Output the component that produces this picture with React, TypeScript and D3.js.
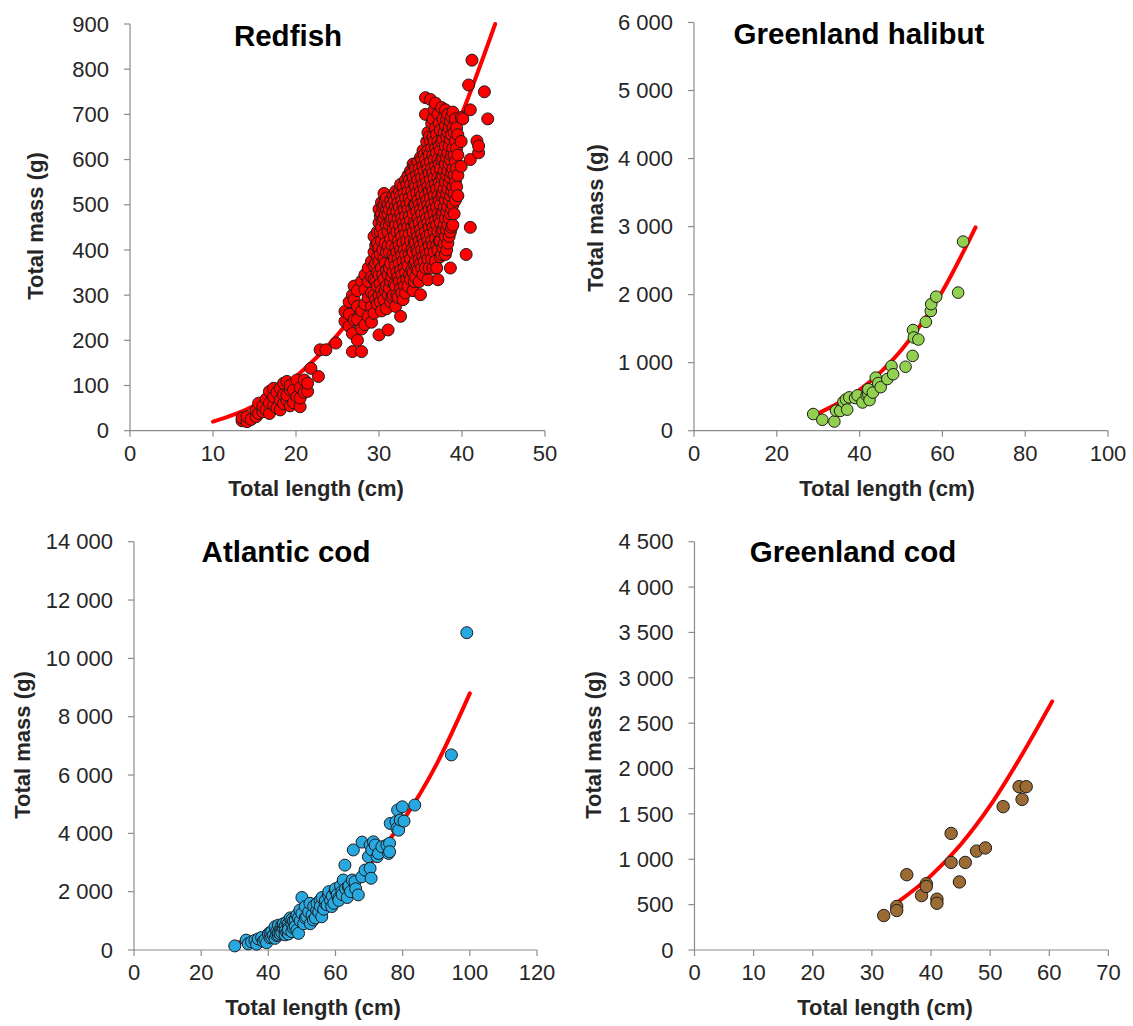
import React, { useEffect } from "react";
import * as d3 from "d3";

// Redfish: each row is [total length (cm), total mass (g) of each fish measured at that length...]
const redfishRows: number[][] = [
  [13.5, 22, 28],
  [14.1, 20, 31],
  [14.6, 25],
  [15.2, 31, 45],
  [15.5, 38, 61],
  [16.0, 42, 55],
  [16.4, 46, 70],
  [16.8, 38, 61, 87],
  [17.3, 57, 75, 94],
  [17.7, 50, 85],
  [18.1, 46, 68, 94],
  [18.5, 60, 80, 105],
  [18.9, 68, 79, 109],
  [19.3, 55, 90, 100],
  [19.7, 62, 90],
  [20.1, 75, 112],
  [20.5, 53, 72, 95],
  [21.0, 85, 112],
  [21.4, 87, 105],
  [21.8, 138],
  [22.7, 120],
  [22.9, 179],
  [23.6, 179],
  [24.8, 194],
  [25.9, 242, 264],
  [26.4, 231, 258, 285],
  [26.8, 175, 215, 300],
  [27.0, 245, 290, 320],
  [27.4, 200, 246, 275, 310],
  [27.9, 175, 225, 265, 331],
  [28.3, 235, 280, 312, 345],
  [28.7, 253, 295, 330, 360],
  [29.1, 240, 275, 305, 340, 375],
  [29.4, 260, 300, 335, 365, 395, 430],
  [29.6, 290, 330, 370, 410],
  [29.8, 280, 320, 350, 385, 415, 440],
  [30.0, 212, 300, 345, 375, 405, 460, 490],
  [30.15, 285, 325, 390, 440, 475],
  [30.3, 265, 310, 360, 420, 450, 480, 505],
  [30.45, 300, 345, 400, 465, 495],
  [30.6, 290, 335, 380, 435, 470, 500, 525],
  [30.75, 310, 370, 415, 480, 510],
  [30.9, 270, 320, 355, 395, 455, 490, 515],
  [31.1, 223, 300, 345, 410, 440, 480, 500],
  [31.25, 315, 360, 395, 455, 490],
  [31.4, 285, 330, 370, 425, 465, 510],
  [31.55, 295, 340, 410, 470, 500],
  [31.7, 300, 350, 390, 445, 485, 520],
  [31.85, 325, 380, 430, 470, 510],
  [32.0, 275, 320, 365, 405, 455, 495, 530],
  [32.15, 300, 350, 395, 440, 485, 520],
  [32.3, 295, 340, 380, 420, 470, 505],
  [32.45, 330, 370, 410, 455, 495, 530],
  [32.6, 253, 315, 355, 400, 440, 480, 520, 545],
  [32.75, 305, 345, 390, 430, 470, 510],
  [32.9, 290, 330, 375, 415, 460, 500, 540],
  [33.05, 320, 360, 400, 450, 490, 525],
  [33.2, 305, 350, 390, 435, 475, 515, 555],
  [33.35, 335, 375, 420, 460, 500, 545],
  [33.5, 320, 365, 405, 450, 490, 530, 565],
  [33.65, 345, 390, 435, 475, 515, 555],
  [33.8, 335, 380, 420, 465, 505, 545, 575],
  [33.95, 355, 400, 450, 490, 530, 570],
  [34.1, 310, 350, 395, 440, 480, 520, 560, 590],
  [34.25, 330, 370, 420, 460, 500, 545, 585],
  [34.4, 340, 375, 415, 455, 500, 540, 580],
  [34.55, 360, 400, 440, 485, 525, 565],
  [34.7, 355, 395, 430, 470, 510, 555, 595],
  [34.85, 330, 380, 420, 460, 500, 540, 580],
  [35.0, 301, 370, 410, 445, 490, 530, 570, 605],
  [35.15, 360, 400, 435, 480, 520, 560, 600],
  [35.3, 345, 385, 425, 465, 505, 545, 585, 620],
  [35.45, 375, 415, 455, 495, 535, 575, 610],
  [35.6, 360, 400, 440, 480, 520, 560, 600, 700, 737],
  [35.75, 390, 430, 470, 510, 550, 590, 640],
  [35.9, 334, 380, 420, 460, 500, 540, 580, 620, 660],
  [36.05, 360, 410, 450, 490, 530, 570, 610, 650],
  [36.2, 395, 435, 475, 515, 555, 595, 640, 733],
  [36.35, 380, 420, 460, 500, 540, 580, 625, 680],
  [36.5, 360, 410, 450, 490, 530, 570, 610, 650, 690],
  [36.65, 395, 440, 480, 520, 560, 600, 640, 710],
  [36.8, 375, 425, 465, 505, 545, 585, 625, 670, 725],
  [36.95, 360, 410, 455, 495, 535, 575, 615, 655],
  [37.1, 334, 400, 440, 480, 520, 560, 600, 640, 700],
  [37.25, 420, 470, 510, 550, 590, 630, 680],
  [37.4, 385, 420, 460, 500, 540, 580, 620, 665],
  [37.55, 390, 440, 480, 520, 560, 600, 640, 715],
  [37.7, 405, 445, 485, 525, 565, 605, 645, 690],
  [37.85, 415, 455, 495, 535, 575, 615, 660],
  [38.0, 390, 430, 470, 510, 550, 590, 630, 675, 710],
  [38.15, 400, 445, 485, 525, 565, 605, 650, 690],
  [38.3, 415, 455, 495, 535, 575, 615, 660, 700],
  [38.45, 430, 470, 510, 550, 590, 630, 670],
  [38.6, 360, 440, 480, 520, 560, 600, 645, 685],
  [38.75, 450, 490, 530, 570, 610, 655, 695],
  [38.9, 455, 500, 540, 580, 625, 670, 705],
  [39.05, 480, 525, 565, 610, 660],
  [39.2, 510, 550, 595, 640, 690],
  [39.35, 540, 580, 625, 670],
  [39.5, 520, 565, 610, 655],
  [39.9, 585, 640, 693],
  [40.1, 690],
  [40.5, 390],
  [40.8, 765],
  [41.0, 450, 600, 710],
  [41.2, 820],
  [41.8, 641],
  [42.0, 615, 630],
  [42.7, 750],
  [43.1, 690],
];

// [total length (cm), total mass (g)]
const halibutPoints: [number, number][] = [
  [28.8, 245], [31, 160], [33.9, 135], [34.3, 295], [35.3, 290], [36.1, 425],
  [36.7, 460], [37, 310], [37.5, 490], [38.9, 480], [39.5, 520], [40.7, 415],
  [41.7, 520], [42.1, 540], [42.1, 610], [42.4, 450], [43.2, 560], [43.9, 780],
  [44.5, 700], [45.1, 640], [46.7, 760], [47.7, 950], [48.1, 830], [51.1, 940],
  [52.8, 1100], [52.9, 1480], [53.1, 1370], [54.2, 1340], [56, 1600], [57.2, 1760],
  [57.3, 1860], [58.5, 1970], [63.8, 2030], [65, 2780],
];

const atlanticCodPoints: [number, number][] = [
  [30, 140], [33.4, 340], [34, 210], [35, 280], [36, 330], [36.5, 200], [37, 380],
  [38, 430], [38.5, 300], [39, 350], [39.5, 250], [40, 550], [40.5, 420], [40.5, 600],
  [41, 630], [41, 450], [41.5, 500], [42, 800], [42, 400], [42.5, 650], [42.5, 500],
  [43, 510], [43, 600], [43, 850], [43.5, 700], [43.5, 560], [44, 850], [44, 700],
  [44, 600], [44.5, 740], [44.5, 900], [45, 820], [45, 650], [45, 520], [45.5, 600],
  [45.5, 960], [46, 910], [46, 760], [46, 550], [46, 700], [46.5, 1100], [47, 630],
  [47, 900], [47, 1050], [47.5, 1000], [47.5, 750], [48, 1030], [48, 800], [48.5, 1200],
  [48.5, 680], [49, 570], [49, 1100], [49.4, 1370], [49.5, 1000], [50, 1800], [50, 1250],
  [50.5, 900], [51, 1490], [51, 1100], [51.4, 1140], [52, 1300], [52.4, 1600], [52.5, 900],
  [53, 1200], [53.4, 1030], [53.5, 1500], [54, 1100], [54.4, 1370], [54.5, 1600], [55, 1300],
  [55.4, 1710], [55.5, 1500], [55.9, 1140], [56, 1800], [56.5, 1400], [56.9, 1600], [57, 1700],
  [57.5, 1550], [57.9, 1890], [58, 2000], [58.5, 1700], [58.9, 1490], [59, 1850], [59.5, 1600],
  [59.9, 2060], [60, 2100], [60.5, 1900], [60.9, 1770], [61, 1700], [61.5, 2200], [61.9, 2000],
  [62, 1900], [62.3, 2400], [62.8, 2910], [63, 2100], [63.5, 1800], [63.8, 2170], [64, 2200],
  [64.5, 2000], [65, 2400], [65.3, 3430], [65.8, 2340], [66, 2100], [66.8, 1890], [67.8, 2510],
  [67.9, 3700], [68.8, 2740], [69.8, 3200], [70.3, 3600], [70.3, 2800], [70.6, 2460], [70.8, 3430],
  [71.3, 3710], [71.8, 3600], [72.4, 3200], [72.8, 3310], [73.8, 3540], [75.3, 3600], [75.8, 3310],
  [76.1, 3660], [76.1, 3370], [76.3, 4340], [78, 4400], [78.3, 4170], [78.5, 4800], [78.8, 4110],
  [79.3, 4460], [79.9, 4910], [80.4, 4420], [83.6, 4970], [94.5, 6690], [99.1, 10880],
];

const greenlandCodPoints: [number, number][] = [
  [32, 380], [34.2, 480], [34.2, 435], [35.9, 830], [38.4, 600], [39.2, 730], [39.2, 700],
  [41, 560], [41, 515], [43.4, 1285], [43.4, 965], [44.8, 750], [45.8, 965], [47.7, 1090],
  [49.2, 1125], [52.2, 1580], [54.9, 1800], [55.4, 1660], [56.1, 1800],
];

// Length–mass fit curves, sampled along each fitted line
const redfishFit: [number, number][] = [
  [10, 20], [15, 56], [20, 120], [25, 212], [30, 338], [35, 502], [40, 702], [44, 900],
];
const halibutFit: [number, number][] = [
  [30.5, 270], [40, 600], [50, 1180], [60, 2050], [68, 2990],
];
const atlanticCodFit: [number, number][] = [
  [30, 230], [40, 530], [50, 1040], [60, 1820], [70, 2920], [80, 4420], [90, 6350], [100, 8800],
];
const greenlandCodFit: [number, number][] = [
  [34.2, 520], [40, 820], [45, 1160], [50, 1590], [55, 2110], [60.5, 2740],
];

const redfishLengthTicks = [0, 10, 20, 30, 40, 50];
const redfishMassTicks = [0, 100, 200, 300, 400, 500, 600, 700, 800, 900];
const halibutLengthTicks = [0, 20, 40, 60, 80, 100];
const halibutMassTicks = [0, 1000, 2000, 3000, 4000, 5000, 6000];
const atlanticCodLengthTicks = [0, 20, 40, 60, 80, 100, 120];
const atlanticCodMassTicks = [0, 2000, 4000, 6000, 8000, 10000, 12000, 14000];
const greenlandCodLengthTicks = [0, 10, 20, 30, 40, 50, 60, 70];
const greenlandCodMassTicks = [0, 500, 1000, 1500, 2000, 2500, 3000, 3500, 4000, 4500];

const speciesNames = ["Redfish", "Greenland halibut", "Atlantic cod", "Greenland cod"];
const xAxisTitle = "Total length (cm)";
const yAxisTitle = "Total mass (g)";

const redfishPoints: [number, number][] = redfishRows.flatMap(([len, ...masses]) =>
  masses.map((m) => [len, m] as [number, number])
);

const massFormat = d3
  .formatLocale({ decimal: ".", thousands: " ", grouping: [3], currency: ["", ""] })
  .format(",d");

type PanelSpec = {
  title: string;
  points: [number, number][];
  fit: [number, number][];
  xTicks: number[];
  yTicks: number[];
  fill: string;
  r: number;
  left: number;
  right: number;
  top: number;
  bottom: number;
  titleX: number;
  titleY: number;
  xTitleX: number;
  yTitleX: number;
  yTitleY: number;
};

const panels: PanelSpec[] = [
  {
    title: speciesNames[0], points: redfishPoints, fit: redfishFit,
    xTicks: redfishLengthTicks, yTicks: redfishMassTicks, fill: "#ff0000", r: 6,
    left: 130, right: 545, top: 24, bottom: 430.7,
    titleX: 288, titleY: 46, xTitleX: 316, yTitleX: 43, yTitleY: 226,
  },
  {
    title: speciesNames[1], points: halibutPoints, fit: halibutFit,
    xTicks: halibutLengthTicks, yTicks: halibutMassTicks, fill: "#92d050", r: 5.8,
    left: 694, right: 1108, top: 22.5, bottom: 430.7,
    titleX: 859, titleY: 44, xTitleX: 887, yTitleX: 603, yTitleY: 218,
  },
  {
    title: speciesNames[2], points: atlanticCodPoints, fit: atlanticCodFit,
    xTicks: atlanticCodLengthTicks, yTicks: atlanticCodMassTicks, fill: "#27a8e0", r: 6,
    left: 134, right: 537, top: 541.7, bottom: 950,
    titleX: 286, titleY: 562, xTitleX: 313, yTitleX: 30, yTitleY: 745,
  },
  {
    title: speciesNames[3], points: greenlandCodPoints, fit: greenlandCodFit,
    xTicks: greenlandCodLengthTicks, yTicks: greenlandCodMassTicks, fill: "#9c6b34", r: 6.2,
    left: 694.5, right: 1108.4, top: 541.7, bottom: 950,
    titleX: 853, titleY: 562, xTitleX: 885, yTitleX: 601, yTitleY: 745,
  },
];

const FONT = "'Liberation Sans', Arial, Helvetica, sans-serif";
const AXIS_COLOR = "#8c8c8c";
const TEXT_COLOR = "#262626";

function Panel({ p }: { p: PanelSpec }) {
  const x = d3
    .scaleLinear()
    .domain([p.xTicks[0], p.xTicks[p.xTicks.length - 1]])
    .range([p.left, p.right]);
  const y = d3
    .scaleLinear()
    .domain([p.yTicks[0], p.yTicks[p.yTicks.length - 1]])
    .range([p.bottom, p.top]);
  const line = d3
    .line<[number, number]>()
    .x((d) => x(d[0]))
    .y((d) => y(d[1]))
    .curve(d3.curveMonotoneX);

  return (
    <g>
      {/* axes */}
      <line x1={p.left} x2={p.left} y1={p.top} y2={p.bottom} stroke={AXIS_COLOR} strokeWidth={1.2} />
      <line x1={p.left} x2={p.right} y1={p.bottom} y2={p.bottom} stroke={AXIS_COLOR} strokeWidth={1.2} />
      {p.yTicks.map((t) => (
        <g key={"y" + t}>
          <line x1={p.left - 6} x2={p.left} y1={y(t)} y2={y(t)} stroke={AXIS_COLOR} strokeWidth={1.2} />
          <text
            x={p.left - 21}
            y={y(t)}
            dy="0.35em"
            textAnchor="end"
            fontFamily={FONT}
            fontSize={22}
            fill={TEXT_COLOR}
          >
            {massFormat(t)}
          </text>
        </g>
      ))}
      {p.xTicks.map((t) => (
        <g key={"x" + t}>
          <line x1={x(t)} x2={x(t)} y1={p.bottom} y2={p.bottom + 6} stroke={AXIS_COLOR} strokeWidth={1.2} />
          <text
            x={x(t)}
            y={p.bottom + 30}
            textAnchor="middle"
            fontFamily={FONT}
            fontSize={22}
            fill={TEXT_COLOR}
          >
            {t}
          </text>
        </g>
      ))}

      {/* fitted curve, then the measured fish on top */}
      <path d={line(p.fit) ?? ""} fill="none" stroke="#ff0000" strokeWidth={4} strokeLinecap="round" />
      {p.points.map((d, i) => (
        <circle
          key={i}
          cx={x(d[0])}
          cy={y(d[1])}
          r={p.r}
          fill={p.fill}
          stroke="#1c1c1c"
          strokeWidth={1}
        />
      ))}

      {/* titles */}
      <text
        x={p.titleX}
        y={p.titleY}
        textAnchor="middle"
        fontFamily={FONT}
        fontWeight="bold"
        fontSize={29.5}
        fill="#000"
      >
        {p.title}
      </text>
      <text
        x={p.xTitleX}
        y={p.bottom + 65}
        textAnchor="middle"
        fontFamily={FONT}
        fontWeight="bold"
        fontSize={22}
        fill={TEXT_COLOR}
      >
        {xAxisTitle}
      </text>
      <text
        transform={`translate(${p.yTitleX},${p.yTitleY}) rotate(-90)`}
        textAnchor="middle"
        fontFamily={FONT}
        fontWeight="bold"
        fontSize={22}
        fill={TEXT_COLOR}
      >
        {yAxisTitle}
      </text>
    </g>
  );
}

export default function App() {
  useEffect(() => {
    document.body.style.margin = "0";
  }, []);
  return (
    <svg
      width={1133}
      height={1026}
      viewBox="0 0 1133 1026"
      style={{ position: "absolute", left: 0, top: 0, display: "block", background: "#fff" }}
    >
      <rect width={1133} height={1026} fill="#fff" />
      {panels.map((p) => (
        <Panel key={p.title} p={p} />
      ))}
    </svg>
  );
}
